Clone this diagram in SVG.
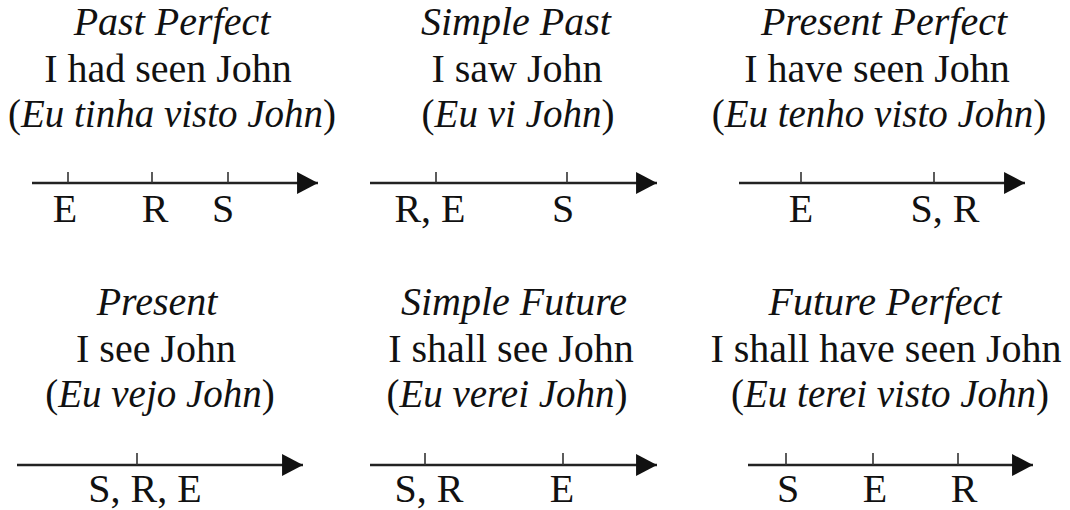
<svg xmlns="http://www.w3.org/2000/svg" width="1070" height="510" viewBox="0 0 1070 510" font-family="Liberation Serif">
<style>
svg text, svg tspan{font-family:'Liberation Serif','Times New Roman',serif !important}
text{font-size:40px;fill:#111;text-anchor:middle}
.it{font-style:italic}
.par{font-size:39px}
.axis{stroke:#222;stroke-width:2.6;fill:none}
.tick{stroke:#333;stroke-width:1.6}
</style>
<defs>
<marker id="ah" markerUnits="userSpaceOnUse" markerWidth="22" markerHeight="22" viewBox="0 0 20 21" refX="20" refY="10.5" orient="auto">
<polygon points="0,0 20,10.5 0,21" fill="#111"/>
</marker>
</defs>
<rect width="1070" height="510" fill="#fff"/>
<g id="connectors">
<line class="axis" x1="32" y1="183" x2="318" y2="183" marker-end="url(#ah)"/>
<line class="axis" x1="370" y1="183" x2="657" y2="183" marker-end="url(#ah)"/>
<line class="axis" x1="739" y1="183" x2="1025" y2="183" marker-end="url(#ah)"/>
<line class="axis" x1="17" y1="465" x2="303" y2="465" marker-end="url(#ah)"/>
<line class="axis" x1="370" y1="465" x2="657" y2="465" marker-end="url(#ah)"/>
<line class="axis" x1="748" y1="465" x2="1033" y2="465" marker-end="url(#ah)"/>
</g>
<g id="past-perfect">
<text class="it" x="172" y="35" style="font-family:'Liberation Serif'">Past Perfect</text>
<text x="168" y="82" style="font-family:'Liberation Serif'">I had seen John</text>
<text class="par" x="172" y="127" style="font-family:'Liberation Serif'">(<tspan class="it">Eu tinha visto John</tspan>)</text>
<line class="tick" x1="68" y1="172" x2="68" y2="183"/>
<line class="tick" x1="152" y1="172" x2="152" y2="183"/>
<line class="tick" x1="228" y1="172" x2="228" y2="183"/>
<text x="65" y="222" style="font-family:'Liberation Serif'">E</text>
<text x="155" y="222" style="font-family:'Liberation Serif'">R</text>
<text x="223" y="222" style="font-family:'Liberation Serif'">S</text>
</g>
<g id="simple-past">
<text class="it" x="516" y="35" style="font-family:'Liberation Serif'">Simple Past</text>
<text x="517" y="82" style="font-family:'Liberation Serif'">I saw John</text>
<text class="par" x="518" y="127" style="font-family:'Liberation Serif'">(<tspan class="it">Eu vi John</tspan>)</text>
<line class="tick" x1="436" y1="172" x2="436" y2="183"/>
<line class="tick" x1="567" y1="172" x2="567" y2="183"/>
<text x="430" y="222" style="font-family:'Liberation Serif'">R, E</text>
<text x="563" y="222" style="font-family:'Liberation Serif'">S</text>
</g>
<g id="present-perfect">
<text class="it" x="884" y="35" style="font-family:'Liberation Serif'">Present Perfect</text>
<text x="877" y="82" style="font-family:'Liberation Serif'">I have seen John</text>
<text class="par" x="879" y="127" style="font-family:'Liberation Serif'">(<tspan class="it">Eu tenho visto John</tspan>)</text>
<line class="tick" x1="801" y1="172" x2="801" y2="183"/>
<line class="tick" x1="934" y1="172" x2="934" y2="183"/>
<text x="801" y="222" style="font-family:'Liberation Serif'">E</text>
<text x="945" y="222" style="font-family:'Liberation Serif'">S, R</text>
</g>
<g id="present">
<text class="it" x="157" y="315" style="font-family:'Liberation Serif'">Present</text>
<text x="156" y="362" style="font-family:'Liberation Serif'">I see John</text>
<text class="par" x="160" y="407" style="font-family:'Liberation Serif'">(<tspan class="it">Eu vejo John</tspan>)</text>
<line class="tick" x1="137" y1="453" x2="137" y2="465"/>
<text x="145" y="502" style="font-family:'Liberation Serif'">S, R, E</text>
</g>
<g id="simple-future">
<text class="it" x="514" y="315" style="font-family:'Liberation Serif'">Simple Future</text>
<text x="511" y="362" style="font-family:'Liberation Serif'">I shall see John</text>
<text class="par" x="507" y="407" style="font-family:'Liberation Serif'">(<tspan class="it">Eu verei John</tspan>)</text>
<line class="tick" x1="425" y1="453" x2="425" y2="465"/>
<line class="tick" x1="563" y1="453" x2="563" y2="465"/>
<text x="429" y="502" style="font-family:'Liberation Serif'">S, R</text>
<text x="562" y="502" style="font-family:'Liberation Serif'">E</text>
</g>
<g id="future-perfect">
<text class="it" x="885" y="315" style="font-family:'Liberation Serif'">Future Perfect</text>
<text x="886" y="362" style="font-family:'Liberation Serif'">I shall have seen John</text>
<text class="par" x="890" y="407" style="font-family:'Liberation Serif'">(<tspan class="it">Eu terei visto John</tspan>)</text>
<line class="tick" x1="786" y1="453" x2="786" y2="465"/>
<line class="tick" x1="873" y1="453" x2="873" y2="465"/>
<line class="tick" x1="958" y1="453" x2="958" y2="465"/>
<text x="788" y="502" style="font-family:'Liberation Serif'">S</text>
<text x="875" y="502" style="font-family:'Liberation Serif'">E</text>
<text x="964" y="502" style="font-family:'Liberation Serif'">R</text>
</g>
</svg>
